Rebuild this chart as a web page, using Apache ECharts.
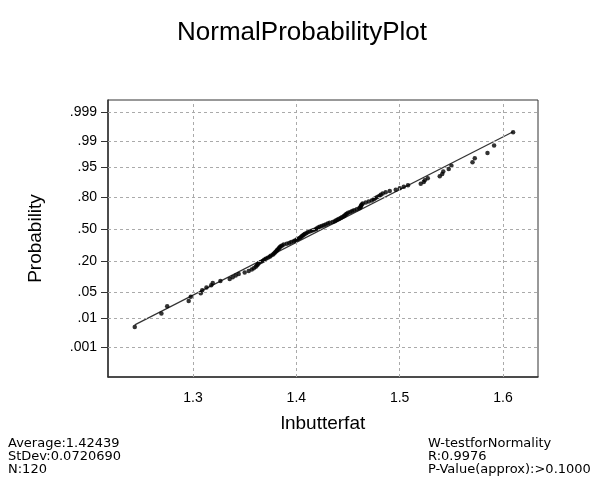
<!DOCTYPE html>
<html>
<head>
<meta charset="utf-8">
<title>Normal Probability Plot</title>
<script src="https://cdn.jsdelivr.net/npm/echarts@6/dist/echarts.min.js"></script>
<style>
  html, body { margin: 0; padding: 0; background: #fff; }
  #main { width: 604px; height: 485px; }
</style>
</head>
<body>
<div id="main"></div>
<script>
// sorted lnbutterfat values (n = 120)
var lnButterfat = [
  1.2436, 1.2694, 1.2750, 1.2958, 1.2978, 1.3075, 1.3089, 1.3130, 1.3176, 1.3191,
  1.3265, 1.3355, 1.3384, 1.3413, 1.3442, 1.3500, 1.3539, 1.3568, 1.3588, 1.3607,
  1.3617, 1.3626, 1.3636, 1.3655, 1.3675, 1.3689, 1.3704, 1.3723, 1.3742, 1.3752,
  1.3771, 1.3781, 1.3791, 1.3800, 1.3810, 1.3815, 1.3825, 1.3834, 1.3839, 1.3849,
  1.3863, 1.3878, 1.3907, 1.3931, 1.3951, 1.3975, 1.3989, 1.4004, 1.4018, 1.4033,
  1.4043, 1.4052, 1.4062, 1.4072, 1.4081, 1.4096, 1.4110, 1.4130, 1.4149, 1.4168,
  1.4188, 1.4197, 1.4212, 1.4226, 1.4246, 1.4265, 1.4284, 1.4304, 1.4323, 1.4352,
  1.4372, 1.4386, 1.4401, 1.4415, 1.4430, 1.4444, 1.4459, 1.4468, 1.4478, 1.4488,
  1.4502, 1.4522, 1.4541, 1.4560, 1.4585, 1.4609, 1.4619, 1.4623, 1.4628, 1.4633,
  1.4643, 1.4672, 1.4701, 1.4730, 1.4749, 1.4764, 1.4783, 1.4803, 1.4817, 1.4836,
  1.4865, 1.4904, 1.4962, 1.5001, 1.5040, 1.5081, 1.5204, 1.5233, 1.5243, 1.5272,
  1.5388, 1.5412, 1.5422, 1.5475, 1.5501, 1.5705, 1.5727, 1.5850, 1.5914, 1.6098
];
var probTicks = [0.001, 0.01, 0.05, 0.2, 0.5, 0.8, 0.95, 0.99, 0.999];
var probLabels = ['.001', '.01', '.05', '.20', '.50', '.80', '.95', '.99', '.999'];
var xTicks = [1.3, 1.4, 1.5, 1.6];
var average = 1.42439;
var stDev = 0.0720690;
var statsLeft = ['Average:1.42439', 'StDev:0.0720690', 'N:120'];
var statsRight = ['W-testforNormality', 'R:0.9976', 'P-Value(approx):>0.1000'];

// inverse normal cdf (Acklam approximation)
function qnorm(p) {
  var a = [-3.969683028665376e+01, 2.209460984245205e+02, -2.759285104469687e+02, 1.383577518672690e+02, -3.066479806614716e+01, 2.506628277459239e+00];
  var b = [-5.447609879822406e+01, 1.615858368580409e+02, -1.556989798598866e+02, 6.680131188771972e+01, -1.328068155288572e+01];
  var c = [-7.784894002430293e-03, -3.223964580411365e-01, -2.400758277161838e+00, -2.549732539343734e+00, 4.374664141464968e+00, 2.938163982698783e+00];
  var d = [7.784695709041462e-03, 3.224671290700398e-01, 2.445134137142996e+00, 3.754408661907416e+00];
  var plow = 0.02425, q, r;
  if (p < plow) {
    q = Math.sqrt(-2 * Math.log(p));
    return (((((c[0]*q+c[1])*q+c[2])*q+c[3])*q+c[4])*q+c[5]) / ((((d[0]*q+d[1])*q+d[2])*q+d[3])*q+1);
  }
  if (p <= 1 - plow) {
    q = p - 0.5; r = q * q;
    return (((((a[0]*r+a[1])*r+a[2])*r+a[3])*r+a[4])*r+a[5])*q / (((((b[0]*r+b[1])*r+b[2])*r+b[3])*r+b[4])*r+1);
  }
  q = Math.sqrt(-2 * Math.log(1 - p));
  return -(((((c[0]*q+c[1])*q+c[2])*q+c[3])*q+c[4])*q+c[5]) / ((((d[0]*q+d[1])*q+d[2])*q+d[3])*q+1);
}

var n = lnButterfat.length;
var zTicks = probTicks.map(qnorm);
// normal scores from plotting positions (i - 3/8) / (n + 1/4)
var points = lnButterfat.map(function (v, i) {
  return [v, qnorm((i + 1 - 0.375) / (n + 0.25))];
});
var xMin = lnButterfat[0], xMax = lnButterfat[n - 1];
var fitLine = [[xMin, (xMin - average) / stDev], [xMax, (xMax - average) / stDev]];

var gridStyle = { color: '#aaa', width: 1, type: [3, 3] };
var gridLines = zTicks.map(function (z) { return { yAxis: z }; })
  .concat(xTicks.map(function (x) { return { xAxis: x }; }));

var chart = echarts.init(document.getElementById('main'));
chart.setOption({
  animation: false,
  textStyle: { fontFamily: 'Liberation Sans, Arial, sans-serif' },
  title: {
    text: 'NormalProbabilityPlot',
    left: 'center',
    top: 15,
    textStyle: { fontSize: 26, fontWeight: 'normal', color: '#000', fontFamily: 'Liberation Sans, Arial, sans-serif' }
  },
  grid: {
    left: 108, right: 66, top: 100, bottom: 108,
    show: true, borderColor: '#333', borderWidth: 1
  },
  xAxis: {
    type: 'value',
    min: 1.2177,
    max: 1.6339,
    name: 'lnbutterfat',
    nameLocation: 'middle',
    nameGap: 37,
    nameTextStyle: { fontSize: 19, color: '#000' },
    axisLine: { onZero: false, lineStyle: { color: '#333', width: 1.5 } },
    axisTick: { show: false },
    splitLine: { show: false },
    axisLabel: {
      customValues: xTicks,
      fontSize: 14, color: '#000', margin: 14,
      formatter: function (v) { return v.toFixed(1); }
    }
  },
  yAxis: {
    type: 'value',
    min: -3.88,
    max: 3.41,
    name: 'Probability',
    nameLocation: 'middle',
    nameRotate: 90,
    nameGap: 63,
    nameTextStyle: { fontSize: 19, color: '#000' },
    axisLine: { show: true, onZero: false, lineStyle: { color: '#333', width: 1.5 } },
    axisTick: { show: true, customValues: zTicks, length: 7, lineStyle: { color: '#333' } },
    splitLine: { show: false },
    axisLabel: {
      customValues: zTicks,
      fontSize: 14, color: '#000', margin: 11,
      formatter: function (v) {
        for (var i = 0; i < zTicks.length; i++) {
          if (Math.abs(zTicks[i] - v) < 1e-6) return probLabels[i];
        }
        return '';
      }
    }
  },
  series: [
    {
      type: 'line',
      data: fitLine,
      symbol: 'none',
      lineStyle: { color: '#333', width: 1.2 },
      z: 3,
      markLine: {
        silent: true,
        symbol: 'none',
        label: { show: false },
        lineStyle: gridStyle,
        data: gridLines
      }
    },
    {
      type: 'scatter',
      data: points,
      symbol: 'circle',
      symbolSize: 4.5,
      itemStyle: { color: '#000' },
      z: 4
    }
  ],
  graphic: [
    {
      type: 'text', left: 8, top: 437,
      style: { text: statsLeft.join('\n'), fontSize: 13, lineHeight: 13, fill: '#000', fontFamily: 'DejaVu Sans, sans-serif' }
    },
    {
      type: 'text', left: 428, top: 437,
      style: { text: statsRight.join('\n'), fontSize: 13, lineHeight: 13, fill: '#000', fontFamily: 'DejaVu Sans, sans-serif' }
    }
  ]
});
</script>
</body>
</html>
